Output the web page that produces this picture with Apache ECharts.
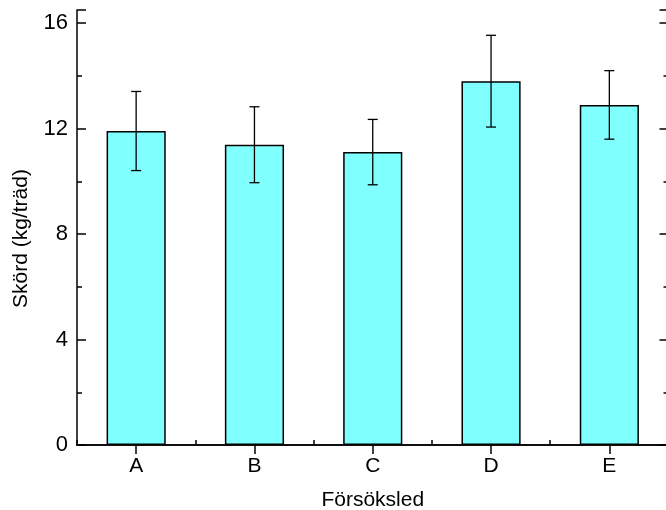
<!DOCTYPE html>
<html><head><meta charset="utf-8">
<script src="https://cdn.jsdelivr.net/npm/echarts@6/dist/echarts.min.js"></script>
<style>html,body{margin:0;padding:0;background:#fff}#c{width:666px;height:510px}</style>
</head><body><div id="c"></div>
<script>
var categories = ['A', 'B', 'C', 'D', 'E'];
var means = [11.91, 11.39, 11.11, 13.80, 12.90];
var errors = [1.50, 1.44, 1.24, 1.74, 1.30];
var yTicks = [0, 4, 8, 12, 16];

var chart = echarts.init(document.getElementById('c'), null, {renderer: 'canvas'});
var FONT = 'Liberation Sans, Arial, sans-serif';
var lineStyle = {color: '#000', width: 1.5};
function yAx(pos, interval, len, labels) {
  return {
    type: 'value', position: pos, min: 0, max: 16.5, interval: interval,
    axisLine: {show: interval === 4, lineStyle: lineStyle},
    axisTick: {show: true, inside: true, length: len, lineStyle: {color: '#000', width: 1.5}},
    splitLine: {show: false},
    axisLabel: {show: labels, color: '#000', fontFamily: FONT, fontSize: 22, margin: 9,
      formatter: function (v) { return yTicks.indexOf(v) >= 0 ? String(v) : ''; }},
    name: labels ? 'Skörd (kg/träd)' : '', nameLocation: 'middle', nameGap: 45,
    nameTextStyle: {color: '#000', fontFamily: FONT, fontSize: 21, padding: [0, 22, 0, 0]}
  };
}
var option = {
  animation: false,
  backgroundColor: '#fff',
  grid: {left: 77, right: -2.5, top: 10, bottom: 65, containLabel: false, outerBoundsMode: 'none'},
  xAxis: [{
    type: 'category', data: categories, position: 'bottom',
    axisLine: {lineStyle: lineStyle},
    axisTick: {show: true, inside: true, length: 5, lineStyle: {color: '#000', width: 1.5}},
    axisLabel: {color: '#000', fontFamily: FONT, fontSize: 21, margin: 11},
    name: 'Försöksled', nameLocation: 'middle', nameGap: 45,
    nameTextStyle: {color: '#000', fontFamily: FONT, fontSize: 21}
  }, {
    type: 'category', data: categories, position: 'top',
    axisLine: {lineStyle: lineStyle},
    axisTick: {show: true, inside: true, alignWithLabel: true, length: 9, lineStyle: {color: '#000', width: 1.5}},
    axisLabel: {show: false}
  }],
  yAxis: [yAx('left', 4, 9, true), yAx('left', 2, 5, false), yAx('right', 4, 9, false), yAx('right', 2, 5, false)],
  series: [{
    type: 'bar', data: means, barWidth: '50%', xAxisIndex: 0, yAxisIndex: 0,
    itemStyle: {color: '#80ffff', borderColor: '#000', borderWidth: 1.5}
  }, {
    type: 'custom', xAxisIndex: 0, yAxisIndex: 0,
    data: means.map(function (m, i) { return [i, m - errors[i], m + errors[i]]; }),
    renderItem: function (params, api) {
      var x = api.value(0);
      var lo = api.coord([x, api.value(1)]);
      var hi = api.coord([x, api.value(2)]);
      var hw = 5;
      var st = {stroke: '#000', lineWidth: 1.3};
      return {type: 'group', children: [
        {type: 'line', shape: {x1: hi[0], y1: hi[1], x2: lo[0], y2: lo[1]}, style: st},
        {type: 'line', shape: {x1: hi[0] - hw, y1: hi[1], x2: hi[0] + hw, y2: hi[1]}, style: st},
        {type: 'line', shape: {x1: lo[0] - hw, y1: lo[1], x2: lo[0] + hw, y2: lo[1]}, style: st}
      ]};
    },
    z: 10
  }]
};
chart.setOption(option);
</script></body></html>
